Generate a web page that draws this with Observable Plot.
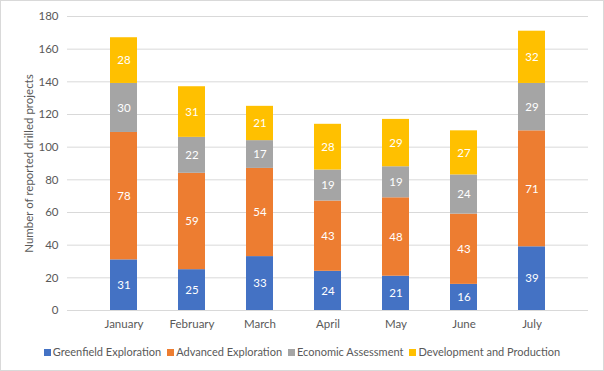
<!DOCTYPE html>
<html><head><meta charset="utf-8">
<script src="https://cdn.jsdelivr.net/npm/d3@7"></script>
<script src="https://cdn.jsdelivr.net/npm/@observablehq/plot@0.6"></script>
<style>
body{margin:0;background:#fff;font-family:Lato,"Open Sans",sans-serif;}
#wrap{width:604px;height:371px;box-sizing:border-box;border:1px solid #d9d9d9;position:relative;overflow:hidden;}
#legend{position:absolute;left:0;right:0;top:344px;text-align:center;font-size:11px;color:#595959;white-space:nowrap;}
#legend span.item{margin:0 3px;}
#legend i{display:inline-block;width:7px;height:7px;margin-right:2px;vertical-align:0px;}
</style></head>
<body><div id="wrap"><div id="chart"></div><div id="legend"></div></div>
<script>
const months = ["January","February","March","April","May","June","July"];
const series = ["Greenfield Exploration","Advanced Exploration","Economic Assessment","Development and Production"];
const greenfield = [31,25,33,24,21,16,39];
const advanced = [78,59,54,43,48,43,71];
const economic = [30,22,17,19,19,24,29];
const development = [28,31,21,28,29,27,32];
const colors = ["#4472C4","#ED7D31","#A5A5A5","#FFC000"];
const yTicks = [0,20,40,60,80,100,120,140,160,180];

const all = [greenfield, advanced, economic, development];
const data = [];
series.forEach((s, si) => months.forEach((m, mi) => data.push({month: m, series: s, value: all[si][mi]})));

const plot = Plot.plot({
  width: 602, height: 336,
  marginTop: 15, marginBottom: 27, marginLeft: 66, marginRight: 15,
  style: {fontFamily: "Lato, 'Open Sans', sans-serif", fontSize: "11.5px", color: "#595959", background: "transparent"},
  x: {domain: months, padding: 0.6, label: null},
  y: {domain: [0, 180], ticks: yTicks, label: null},
  color: {domain: series, range: colors},
  marks: [
    Plot.gridY(yTicks, {stroke: "#d9d9d9", strokeOpacity: 1}),
    Plot.barY(data, {x: "month", y: "value", fill: "series", order: series}),
    Plot.text(data, Plot.stackY({x: "month", y: "value", z: "series", order: series, text: "value", fill: "white", fontSize: 11.5})),
    Plot.ruleY([0], {stroke: "#d9d9d9"}),
    Plot.axisX({tickSize: 0, tickPadding: 9, label: null, fill: "#595959"}),
    Plot.axisY({ticks: yTicks, tickSize: 0, tickPadding: 9, label: "Number of reported drilled projects", labelAnchor: "center", labelArrow: "none", labelOffset: 43, fill: "#595959"})
  ]
});
document.getElementById("chart").appendChild(plot);
const lg = document.getElementById("legend");
series.forEach((s, i) => {
  const sp = document.createElement("span");
  sp.className = "item";
  sp.innerHTML = `<i style="background:${colors[i]}"></i>${s}`;
  lg.appendChild(sp);
});
</script></body></html>
